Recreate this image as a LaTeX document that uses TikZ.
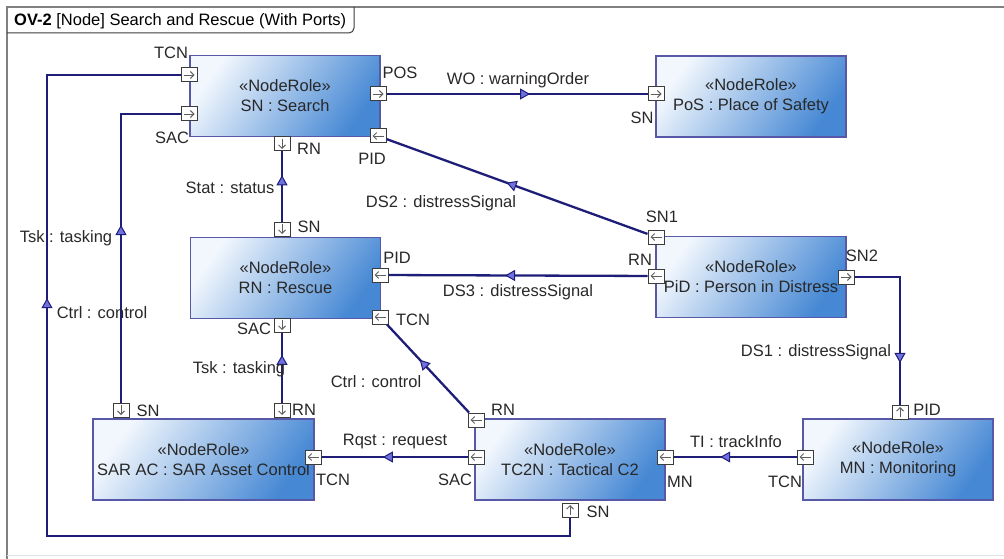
\documentclass[tikz,border=0pt]{standalone}
\usepackage{fontspec}
\setmainfont{Liberation Sans}
\usetikzlibrary{arrows.meta,decorations.markings}

\definecolor{flowline}{RGB}{30,30,120}
\definecolor{msgfill}{RGB}{112,112,222}
\definecolor{boxedge}{RGB}{88,88,168}
\definecolor{boxlight}{RGB}{242,247,253}
\definecolor{boxdark}{RGB}{70,136,212}
\definecolor{portedge}{RGB}{60,60,60}
\definecolor{portarrow}{RGB}{95,95,95}
\definecolor{txt}{RGB}{40,40,40}
\definecolor{framegray}{RGB}{128,128,128}

\begin{document}
\begin{tikzpicture}[x=1pt,y=-1pt,font=\fontsize{16.5}{20}\selectfont,
  msg/.tip={Triangle[length=10pt,width=11pt,fill=msgfill,line width=1pt]},
  pin/.tip={Straight Barb[length=3.5pt,width=7pt,line width=0.9pt]},
  noderole/.style={draw=boxedge,line width=1.2pt,top color=boxlight,bottom color=boxdark,
    shading angle=55,minimum width=190pt,minimum height=81pt,align=center,text=txt,inner sep=0pt},
  port/.style={draw=portedge,fill=white,line width=1pt,minimum width=16pt,minimum height=14pt,inner sep=0pt},
  portR/.style={port,path picture={\draw[portarrow,line width=0.9pt,-pin]
    ([xshift=2.5pt]path picture bounding box.west) -- ([xshift=-2.5pt]path picture bounding box.east);}},
  portL/.style={port,path picture={\draw[portarrow,line width=0.9pt,-pin]
    ([xshift=-2.5pt]path picture bounding box.east) -- ([xshift=2.5pt]path picture bounding box.west);}},
  portD/.style={port,path picture={\draw[portarrow,line width=0.9pt,-pin]
    ([yshift=-2pt]path picture bounding box.north) -- ([yshift=2pt]path picture bounding box.south);}},
  portU/.style={port,path picture={\draw[portarrow,line width=0.9pt,-pin]
    ([yshift=2pt]path picture bounding box.south) -- ([yshift=-2pt]path picture bounding box.north);}},
  lbl/.style={text=txt,inner sep=1pt},
  flow/.style={draw=flowline,line width=2.3pt,postaction={decorate},
    decoration={markings,mark=at position #1 with {\arrow{msg}}}}]
  \useasboundingbox (0,0) rectangle (1004,559);

  % diagram frame and title tab
  \draw[framegray,line width=2pt] (7,559) -- (7,7) -- (1004,7);
  \draw[black!10,line width=1pt] (7,555) -- (1004,555);
  \draw[portedge,line width=1pt,rounded corners=5pt] (7,33) -- (354,33) -- (354,7);
  \node[lbl,anchor=west,text=black] (title) at (13,21) {\textbf{OV-2} [Node] Search and Rescue (With Ports)};

  % node roles
  \node[noderole] (sn) at (285,96) {«NodeRole»\\SN : Search};
  \node[noderole] (pos) at (751,96.5) {«NodeRole»\\PoS : Place of Safety};
  \node[noderole] (rn) at (285.5,278) {«NodeRole»\\RN : Rescue};
  \node[noderole] (pid) at (751,277) {«NodeRole»\\PiD : Person in Distress};
  \node[noderole,minimum width=221pt] (sarac) at (203.5,459.5) {«NodeRole»\\SAR AC : SAR Asset Control};
  \node[noderole] (tc2n) at (570,459.5) {«NodeRole»\\TC2N : Tactical C2};
  \node[noderole] (mn) at (898,459.5) {«NodeRole»\\MN : Monitoring};

  % ports of SN
  \node[portR] (snTCN) at (189,75) {};
  \node[portR] (snSAC) at (189,114) {};
  \node[portR] (snPOS) at (378,94) {};
  \node[portL] (snPID) at (378,136) {};
  \node[portD] (snRN) at (282,144) {};
  \node[lbl] (lsnTCN) at (171,53) {TCN};
  \node[lbl] (lsnSAC) at (172,138) {SAC};
  \node[lbl] (lsnPOS) at (400,73) {POS};
  \node[lbl] (lsnPID) at (372,159) {PID};
  \node[lbl] (lsnRN) at (309,149) {RN};

  % ports of PoS
  \node[portR] (posSN) at (656,94) {};
  \node[lbl] (lposSN) at (642,118) {SN};

  % ports of RN
  \node[portD] (rnSN) at (282,229) {};
  \node[portL] (rnPID) at (380,275) {};
  \node[portL] (rnTCN) at (380,317) {};
  \node[portD] (rnSAC) at (282,325) {};
  \node[lbl] (lrnSN) at (309,227) {SN};
  \node[lbl] (lrnPID) at (397,258) {PID};
  \node[lbl] (lrnTCN) at (413,320) {TCN};
  \node[lbl] (lrnSAC) at (254,329) {SAC};

  % ports of PiD
  \node[portL] (pidSN1) at (656,237) {};
  \node[portL] (pidRN) at (656,276) {};
  \node[portR] (pidSN2) at (846,277) {};
  \node[lbl] (lpidSN1) at (662,217) {SN1};
  \node[lbl] (lpidRN) at (640,260) {RN};
  \node[lbl] (lpidSN2) at (862,256) {SN2};

  % ports of SAR AC
  \node[portD] (sarSN) at (121,410) {};
  \node[portD] (sarRN) at (282,410) {};
  \node[portL] (sarTCN) at (313,457) {};
  \node[lbl] (lsarSN) at (148,411) {SN};
  \node[lbl] (lsarRN) at (304,410) {RN};
  \node[lbl] (lsarTCN) at (333,480) {TCN};

  % ports of TC2N
  \node[portL] (tcRN) at (476,420) {};
  \node[portL] (tcSAC) at (476,457) {};
  \node[portL] (tcMN) at (665,457) {};
  \node[portU] (tcSN) at (570,510) {};
  \node[lbl] (ltcRN) at (503,410) {RN};
  \node[lbl] (ltcSAC) at (455,480) {SAC};
  \node[lbl] (ltcMN) at (680,482) {MN};
  \node[lbl] (ltcSN) at (598,512) {SN};

  % ports of MN
  \node[portL] (mnTCN) at (805,457) {};
  \node[portU] (mnPID) at (900,412) {};
  \node[lbl] (lmnTCN) at (785,482) {TCN};
  \node[lbl] (lmnPID) at (927,410) {PID};

  % information flows
  \coordinate (loop) at (47,536);
  \draw[flow=0.55] (snPOS) -- (posSN);
  \draw[flow=0.54] (pidSN1) -- (snPID);
  \draw[flow=0.66] (rnSN) -- (snRN);
  \draw[flow=0.55] (pidRN) -- (rnPID);
  \draw[flow=0.76] (pidSN2.east) -| (mnPID.north);
  \draw[flow=0.51] (sarSN.north) |- (snSAC.west);
  \draw[flow=0.686] (tcSN.south) |- (loop) |- (snTCN.west);
  \draw[flow=0.68] (sarRN) -- (rnSAC);
  \draw[flow=0.6] (tcRN) -- (rnTCN);
  \draw[flow=0.58] (tcSAC) -- (sarTCN);
  \draw[flow=0.62] (mnTCN) -- (tcMN);

  \node[lbl] (lWO) at (518,80) {WO : warningOrder};
  \node[lbl] (lDS2) at (441,203) {DS2 : distressSignal};
  \node[lbl] (lStat) at (230,188) {Stat : status};
  \node[lbl] (lDS3) at (518,292) {DS3 : distressSignal};
  \node[lbl] (lDS1) at (816,352) {DS1 : distressSignal};
  \node[lbl] (lTskL) at (66,238) {Tsk : tasking};
  \node[lbl] (lCtrlL) at (102,313) {Ctrl : control};
  \node[lbl] (lTskR) at (239,369) {Tsk : tasking};
  \node[lbl] (lCtrlR) at (376,382) {Ctrl : control};
  \node[lbl] (lRqst) at (395,442) {Rqst : request};
  \node[lbl] (lTI) at (736,442) {TI : trackInfo};
\end{tikzpicture}
\end{document}
